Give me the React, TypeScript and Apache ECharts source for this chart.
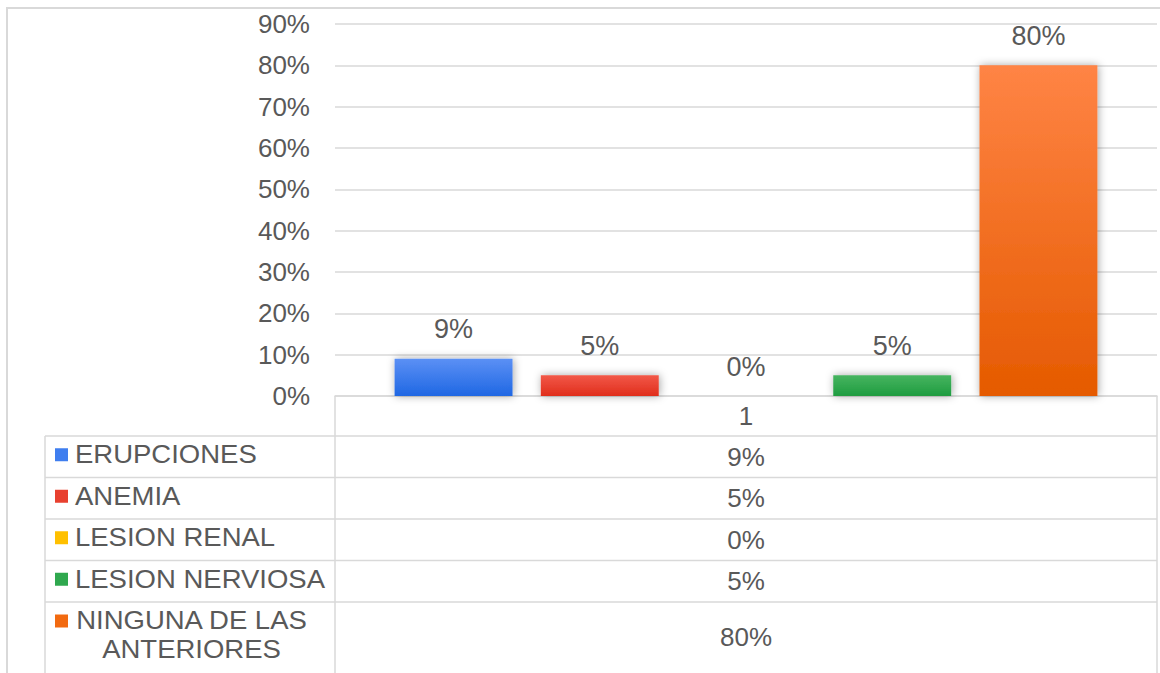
import React, { useEffect, useRef } from "react";
import * as echarts from "echarts";

const categories = ["1"];
const seriesNames = ["ERUPCIONES", "ANEMIA", "LESION RENAL", "LESION NERVIOSA", "NINGUNA DE LAS ANTERIORES"];
const seriesValues = [0.09, 0.05, 0.0, 0.05, 0.8];
const legendLabels = ["ERUPCIONES", "ANEMIA", "LESION RENAL", "LESION NERVIOSA", "NINGUNA DE LAS\nANTERIORES"];
const yTicks = { min: 0, max: 0.9, interval: 0.1 };

const colorsTop = ["#5B90F5", "#F25848", "#FFCA33", "#46B45F", "#FF8445"];
const colorsBottom = ["#1F67E3", "#E02E1C", "#F2AE00", "#1F9C40", "#E55A00"];
const keyColors = ["#3F7EEF", "#E8402F", "#FFC000", "#2FA84E", "#F26A10"];

const FONT = "'Liberation Sans', Arial, sans-serif";
const TXT = "#595959";
const LINE = "#D9D9D9";

const pct = (v: number) => Math.round(v * 100) + "%";

export default function App() {
  const ref = useRef<HTMLDivElement>(null);
  useEffect(() => {
    if (!ref.current) return;
    const chart = echarts.init(ref.current, undefined, { renderer: "svg" });

    const plotLeft = 335;
    const plotRight = 1157;
    const tableLeft = 45;
    const axisY = 396;
    const rowTops = [436, 477.5, 519, 560.5, 602];
    const rowBottom = 700;
    const valueX = (plotLeft + plotRight) / 2;

    const graphics: any[] = [];
    graphics.push({
      type: "rect",
      shape: { x: 7, y: 8, width: 1170, height: 720 },
      style: { fill: "none", stroke: LINE, lineWidth: 2 },
      silent: true,
    });
    graphics.push({ type: "line", shape: { x1: plotLeft, y1: axisY, x2: plotLeft, y2: rowBottom }, style: { stroke: LINE, lineWidth: 1.5 } });
    graphics.push({ type: "line", shape: { x1: plotRight, y1: axisY, x2: plotRight, y2: rowBottom }, style: { stroke: LINE, lineWidth: 1.5 } });
    graphics.push({ type: "line", shape: { x1: tableLeft, y1: rowTops[0], x2: tableLeft, y2: rowBottom }, style: { stroke: LINE, lineWidth: 1.5 } });
    rowTops.forEach((y) => {
      graphics.push({ type: "line", shape: { x1: tableLeft, y1: y, x2: plotRight, y2: y }, style: { stroke: LINE, lineWidth: 1.5 } });
    });

    seriesNames.forEach((name, i) => {
      const top = rowTops[i];
      const bottom = i < rowTops.length - 1 ? rowTops[i + 1] : 671;
      const cy = (top + bottom) / 2 - 1;
      const twoLine = legendLabels[i].includes("\n");
      const keyY = twoLine ? top + 19 : cy - 1;
      graphics.push({
        type: "rect",
        shape: { x: 55, y: keyY - 6.5, width: 13, height: 13 },
        style: { fill: keyColors[i] },
      });
      if (twoLine) {
        graphics.push({
          type: "text",
          x: 191.5,
          y: top + 4,
          scaleX: 1.1,
          style: {
            text: legendLabels[i],
            font: `25px ${FONT}`,
            fill: TXT,
            align: "center",
            verticalAlign: "top",
            lineHeight: 29,
          },
        });
      } else {
        graphics.push({
          type: "text",
          x: 75,
          y: cy - 1,
          scaleX: 1.1,
          style: { text: legendLabels[i], font: `25px ${FONT}`, fill: TXT, align: "left", verticalAlign: "middle" },
        });
      }
      graphics.push({
        type: "text",
        x: valueX,
        y: cy + 1,
        style: { text: pct(seriesValues[i]), font: `26px ${FONT}`, fill: TXT, align: "center", verticalAlign: "middle" },
      });
    });

    chart.setOption({
      animation: false,
      textStyle: { fontFamily: FONT },
      grid: { left: plotLeft, right: 1160 - plotRight, top: 24, bottom: 673 - axisY },
      xAxis: {
        type: "category",
        data: categories,
        axisLine: { show: true, lineStyle: { color: LINE, width: 1.5 } },
        axisTick: { show: false },
        axisLabel: { color: TXT, fontSize: 26, fontFamily: FONT, margin: 7 },
      },
      yAxis: {
        type: "value",
        min: yTicks.min,
        max: yTicks.max,
        interval: yTicks.interval,
        axisLine: { show: false },
        axisTick: { show: false },
        axisLabel: { color: TXT, fontSize: 26, fontFamily: FONT, margin: 25, formatter: (v: number) => pct(v) },
        splitLine: { lineStyle: { color: LINE, width: 1.5 } },
      },
      series: seriesNames.map((name, i) => ({
        type: "bar",
        name,
        data: [seriesValues[i]],
        barGap: "24%",
        barCategoryGap: "14.5%",
        itemStyle: {
          color: new echarts.graphic.LinearGradient(0, 0, 0, 1, [
            { offset: 0, color: colorsTop[i] },
            { offset: 1, color: colorsBottom[i] },
          ]),
          shadowBlur: 8,
          shadowColor: "rgba(0,0,0,0.35)",
          shadowOffsetX: 1,
          shadowOffsetY: 0,
        },
        label: {
          show: true,
          position: "top",
          distance: 16,
          color: TXT,
          fontSize: 27,
          fontFamily: FONT,
          formatter: (p: any) => pct(p.value),
        },
      })),
      graphic: graphics,
    });
    return () => chart.dispose();
  }, []);
  return (
    <div
      ref={ref}
      style={{ position: "fixed", left: 0, top: 0, width: 1160, height: 673, background: "#fff" }}
    />
  );
}
